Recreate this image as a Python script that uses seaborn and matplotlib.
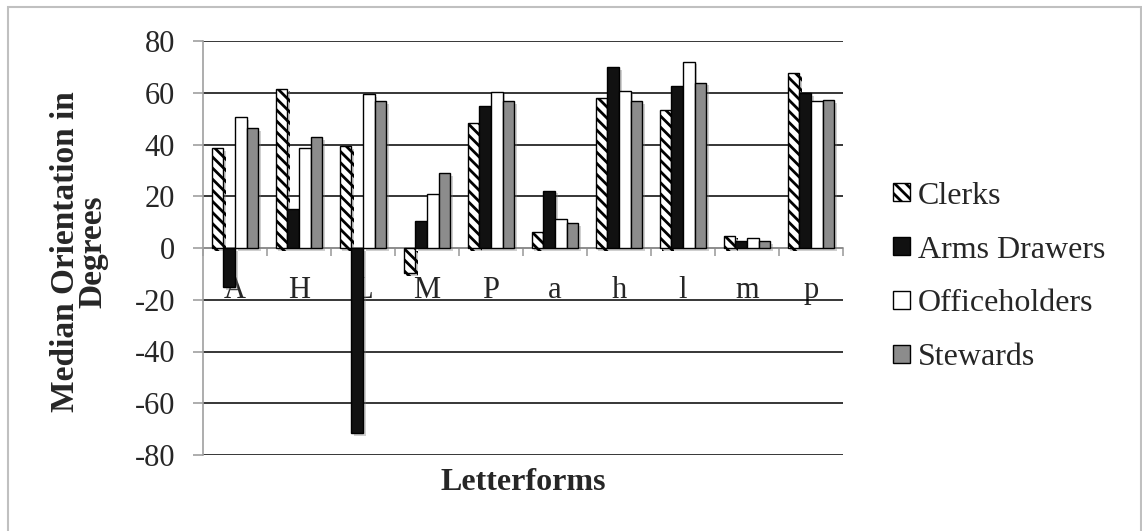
import matplotlib
matplotlib.use("Agg")
import matplotlib.pyplot as plt
import matplotlib.patheffects as pe
from matplotlib.patches import Patch, Rectangle
from matplotlib.ticker import FixedLocator
import numpy as np
import pandas as pd
import seaborn as sns

# Median stroke orientation per letterform, by scribe group
letters = ["A", "H", "L", "M", "P", "a", "h", "l", "m", "p"]
groups = ["Clerks", "Arms Drawers", "Officeholders", "Stewards"]
clerks = [38.5, 61.6, 39.4, -9.8, 48.2, 6.1, 58.1, 53.2, 4.8, 67.6]
arms_drawers = [-15.0, 15.1, -71.4, 10.4, 54.9, 22.2, 69.8, 62.7, 2.8, 60.0]
officeholders = [50.7, 38.5, 59.5, 20.9, 60.4, 11.3, 60.8, 72.0, 3.7, 56.7]
stewards = [46.2, 42.8, 56.8, 28.9, 56.9, 9.5, 56.7, 63.9, 2.8, 57.2]
y_ticks = [-80, -60, -40, -20, 0, 20, 40, 60, 80]

series = [clerks, arms_drawers, officeholders, stewards]
df = pd.DataFrame({
    "Letterform": letters * len(groups),
    "Group": np.repeat(groups, len(letters)),
    "Degrees": np.concatenate(series),
})

face = {"Clerks": "white", "Arms Drawers": "#111111",
        "Officeholders": "white", "Stewards": "#8c8c8c"}
hatch = {"Clerks": "\\\\\\", "Arms Drawers": None,
         "Officeholders": None, "Stewards": None}

sns.set_theme(style="white")
plt.rcParams["font.family"] = ["Liberation Serif", "DejaVu Serif"]
plt.rcParams["hatch.linewidth"] = 2.0
plt.rcParams["hatch.color"] = "black"

fig = plt.figure(figsize=(11.42, 5.31), dpi=100)
ax = fig.add_axes([203 / 1142, 1 - 455 / 531, 640 / 1142, 414 / 531])

sns.barplot(data=df, x="Letterform", y="Degrees", hue="Group",
            order=letters, hue_order=groups, palette=face,
            width=0.73, gap=0, dodge=True, legend=False, ax=ax,
            edgecolor="black", linewidth=1.0, saturation=1)

shadow = [pe.SimplePatchShadow(offset=(2, -2), shadow_rgbFace="#777777", alpha=0.35),
          pe.Normal()]
for cont, g in zip(ax.containers, groups):
    for bar in cont:
        bar.set_facecolor(face[g])
        bar.set_edgecolor("black")
        if hatch[g]:
            bar.set_hatch(hatch[g])
        bar.set_path_effects(shadow)
        bar.set_zorder(3)

ax.set_ylim(-80, 80)
ax.set_xlim(-0.5, len(letters) - 0.5)
ax.set_yticks(y_ticks)
ax.set_yticklabels([str(t) for t in y_ticks])
ax.yaxis.grid(True, color="black", linewidth=1.1)
ax.set_axisbelow(True)

# category axis sits on the zero line, with boundary ticks hanging below it
for s in ["top", "right"]:
    ax.spines[s].set_visible(False)
ax.spines["bottom"].set_position(("data", 0))
ax.spines["bottom"].set_color("#a0a0a0")
ax.spines["bottom"].set_linewidth(1.2)
ax.spines["bottom"].set_zorder(2)
ax.spines["left"].set_color("#a0a0a0")
ax.spines["left"].set_linewidth(1.2)

ax.xaxis.set_minor_locator(FixedLocator(np.arange(-0.5, len(letters), 1.0)))
ax.tick_params(axis="x", which="minor", length=6, width=1.2, color="#a0a0a0",
               direction="out", bottom=True)
ax.tick_params(axis="x", which="major", length=0, pad=20, labelsize=22)
ax.tick_params(axis="y", which="major", length=7, width=1.2, color="#a0a0a0",
               direction="out", left=True, pad=13, labelsize=22)

ax.set_xlabel("")
ax.set_ylabel("")
fig.text(523 / 1142, 1 - 482 / 531, "Letterforms", ha="center", va="center",
         fontsize=23, fontweight="bold")
fig.text(79 / 1142, 1 - 252 / 531, "Median Orientation in\nDegrees", ha="center",
         va="center", rotation=90, fontsize=24, fontweight="bold", linespacing=0.85)

handles = [Patch(facecolor=face[g], edgecolor="black", hatch=hatch[g], linewidth=1.0)
           for g in groups]
fig.legend(handles, groups, loc="center left",
           bbox_to_anchor=(893 / 1142, 1 - 277 / 531), frameon=False,
           fontsize=23, handlelength=0.52, handleheight=0.47, handletextpad=0.25,
           labelspacing=0.78, borderpad=0, borderaxespad=0)

# light frame around the chart area
fig.patches.append(Rectangle((8 / 1142, -0.05), (1141 - 8) / 1142, 1.05 - 7 / 531,
                             transform=fig.transFigure, fill=False,
                             edgecolor="#c0c0c0", linewidth=1.5))

fig.savefig("out.png", dpi=100)
